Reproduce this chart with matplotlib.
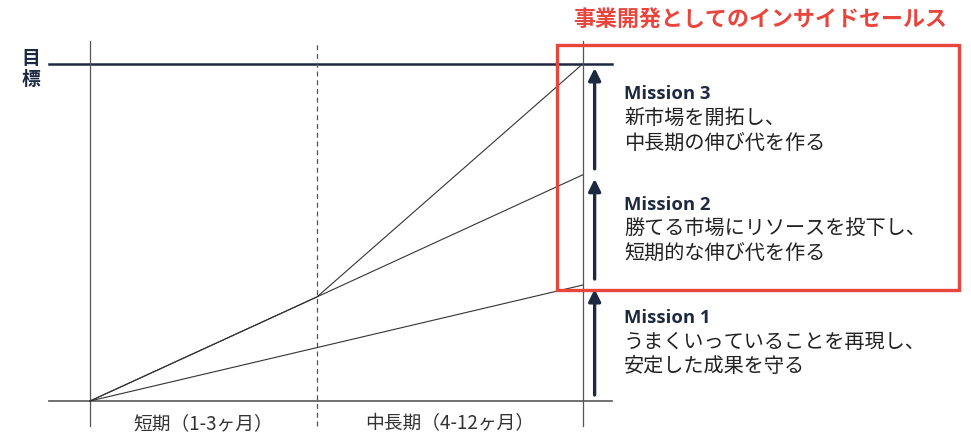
import matplotlib
matplotlib.use('Agg')
import matplotlib.pyplot as plt
from matplotlib.patches import Rectangle

plt.rcParams['font.family'] = ['Noto Sans CJK JP', 'DejaVu Sans']

# data: x = time (period boundaries), y = share of goal reached
period_labels = ['短期（1-3ヶ月）', '中長期（4-12ヶ月）']
period_edges = [0.0, 1.0, 2.17]

mission1_x = [0.0, 2.17]
mission1_y = [0.0, 0.344]
mission2_x = [0.0, 1.0, 2.17]
mission2_y = [0.0, 0.309, 0.671]
mission3_x = [0.0, 1.0, 2.17]
mission3_y = [0.0, 0.309, 1.0]

levels = [0.0, 0.344, 0.671, 1.0]
mission_titles = ['Mission 1', 'Mission 2', 'Mission 3']
mission_texts = [
    ['うまくいっていることを再現し、', '安定した成果を守る'],
    ['勝てる市場にリソースを投下し、', '短期的な伸び代を作る'],
    ['新市場を開拓し、', '中長期の伸び代を作る'],
]
goal_label = '目\n標'
box_title = '事業開発としてのインサイドセールス'

navy = '#1c2940'
red = '#e8463c'

fig = plt.figure(figsize=(9.71, 4.43), dpi=100)
ax = fig.add_axes([0, 0, 1, 1])
ax.set_xlim(-0.3965, 3.881)
ax.set_ylim(-0.1246, 1.190)
ax.axis('off')

# frame lines
ax.plot([-0.18, 2.30], [0, 0], color='#666666', lw=1.3)
ax.plot([-0.18, 2.30], [1, 1], color=navy, lw=1.8)
ax.plot([period_edges[0]] * 2, [-0.074, 1.068], color='#555555', lw=0.9)
ax.plot([period_edges[1]] * 2, [-0.074, 1.068], color='#555555', lw=0.9, ls=(0, (4, 3)))
ax.plot([period_edges[2]] * 2, [-0.074, 1.068], color='#555555', lw=0.9)

# growth lines
ax.plot(mission1_x, mission1_y, color='#333333', lw=0.8)
ax.plot(mission2_x, mission2_y, color='#333333', lw=0.8)
ax.plot(mission3_x, mission3_y, color='#333333', lw=0.8)

# arrows and mission labels
arrow_x = period_edges[2] + 0.053
text_x = arrow_x + 0.13
for i in range(3):
    y0 = levels[i] + 0.018
    y1 = levels[i + 1] - 0.012
    ax.annotate('', xy=(arrow_x, y1), xytext=(arrow_x, y0),
                arrowprops=dict(arrowstyle='-|>', color=navy, lw=2.4,
                                mutation_scale=18, shrinkA=0, shrinkB=0))
    mid = (y0 + y1) / 2
    ax.annotate(mission_titles[i], xy=(text_x, mid), xytext=(0, 17.5),
                textcoords='offset points', ha='left', va='center',
                fontsize=13.3, fontweight='bold', color=navy,
                family=['Open Sans', 'DejaVu Sans'])
    for j, line in enumerate(mission_texts[i]):
        ax.annotate(line, xy=(text_x, mid), xytext=(0, -j * 17.8),
                    textcoords='offset points', ha='left', va='center',
                    fontsize=14.5, color='#222222')

# red box with title
ax.add_patch(Rectangle((2.057, 0.329), 3.828 - 2.057, 1.056 - 0.329,
                       fill=False, edgecolor=red, lw=2.4, zorder=5))
ax.text((2.057 + 3.828) / 2 + 0.01, 1.131, box_title, ha='center', va='center',
        fontsize=15.8, fontweight='bold', color=red)

# goal label
ax.text(-0.262, 0.985, goal_label, ha='center', va='center',
        fontsize=13.5, fontweight='bold', color=navy, linespacing=1.15)

# period labels
for k, lab in enumerate(period_labels):
    xc = (period_edges[k] + period_edges[k + 1]) / 2
    ax.text(xc, -0.068, lab, ha='center', va='center',
            fontsize=13.5, color='#333333')

fig.savefig('out.png', dpi=100)
